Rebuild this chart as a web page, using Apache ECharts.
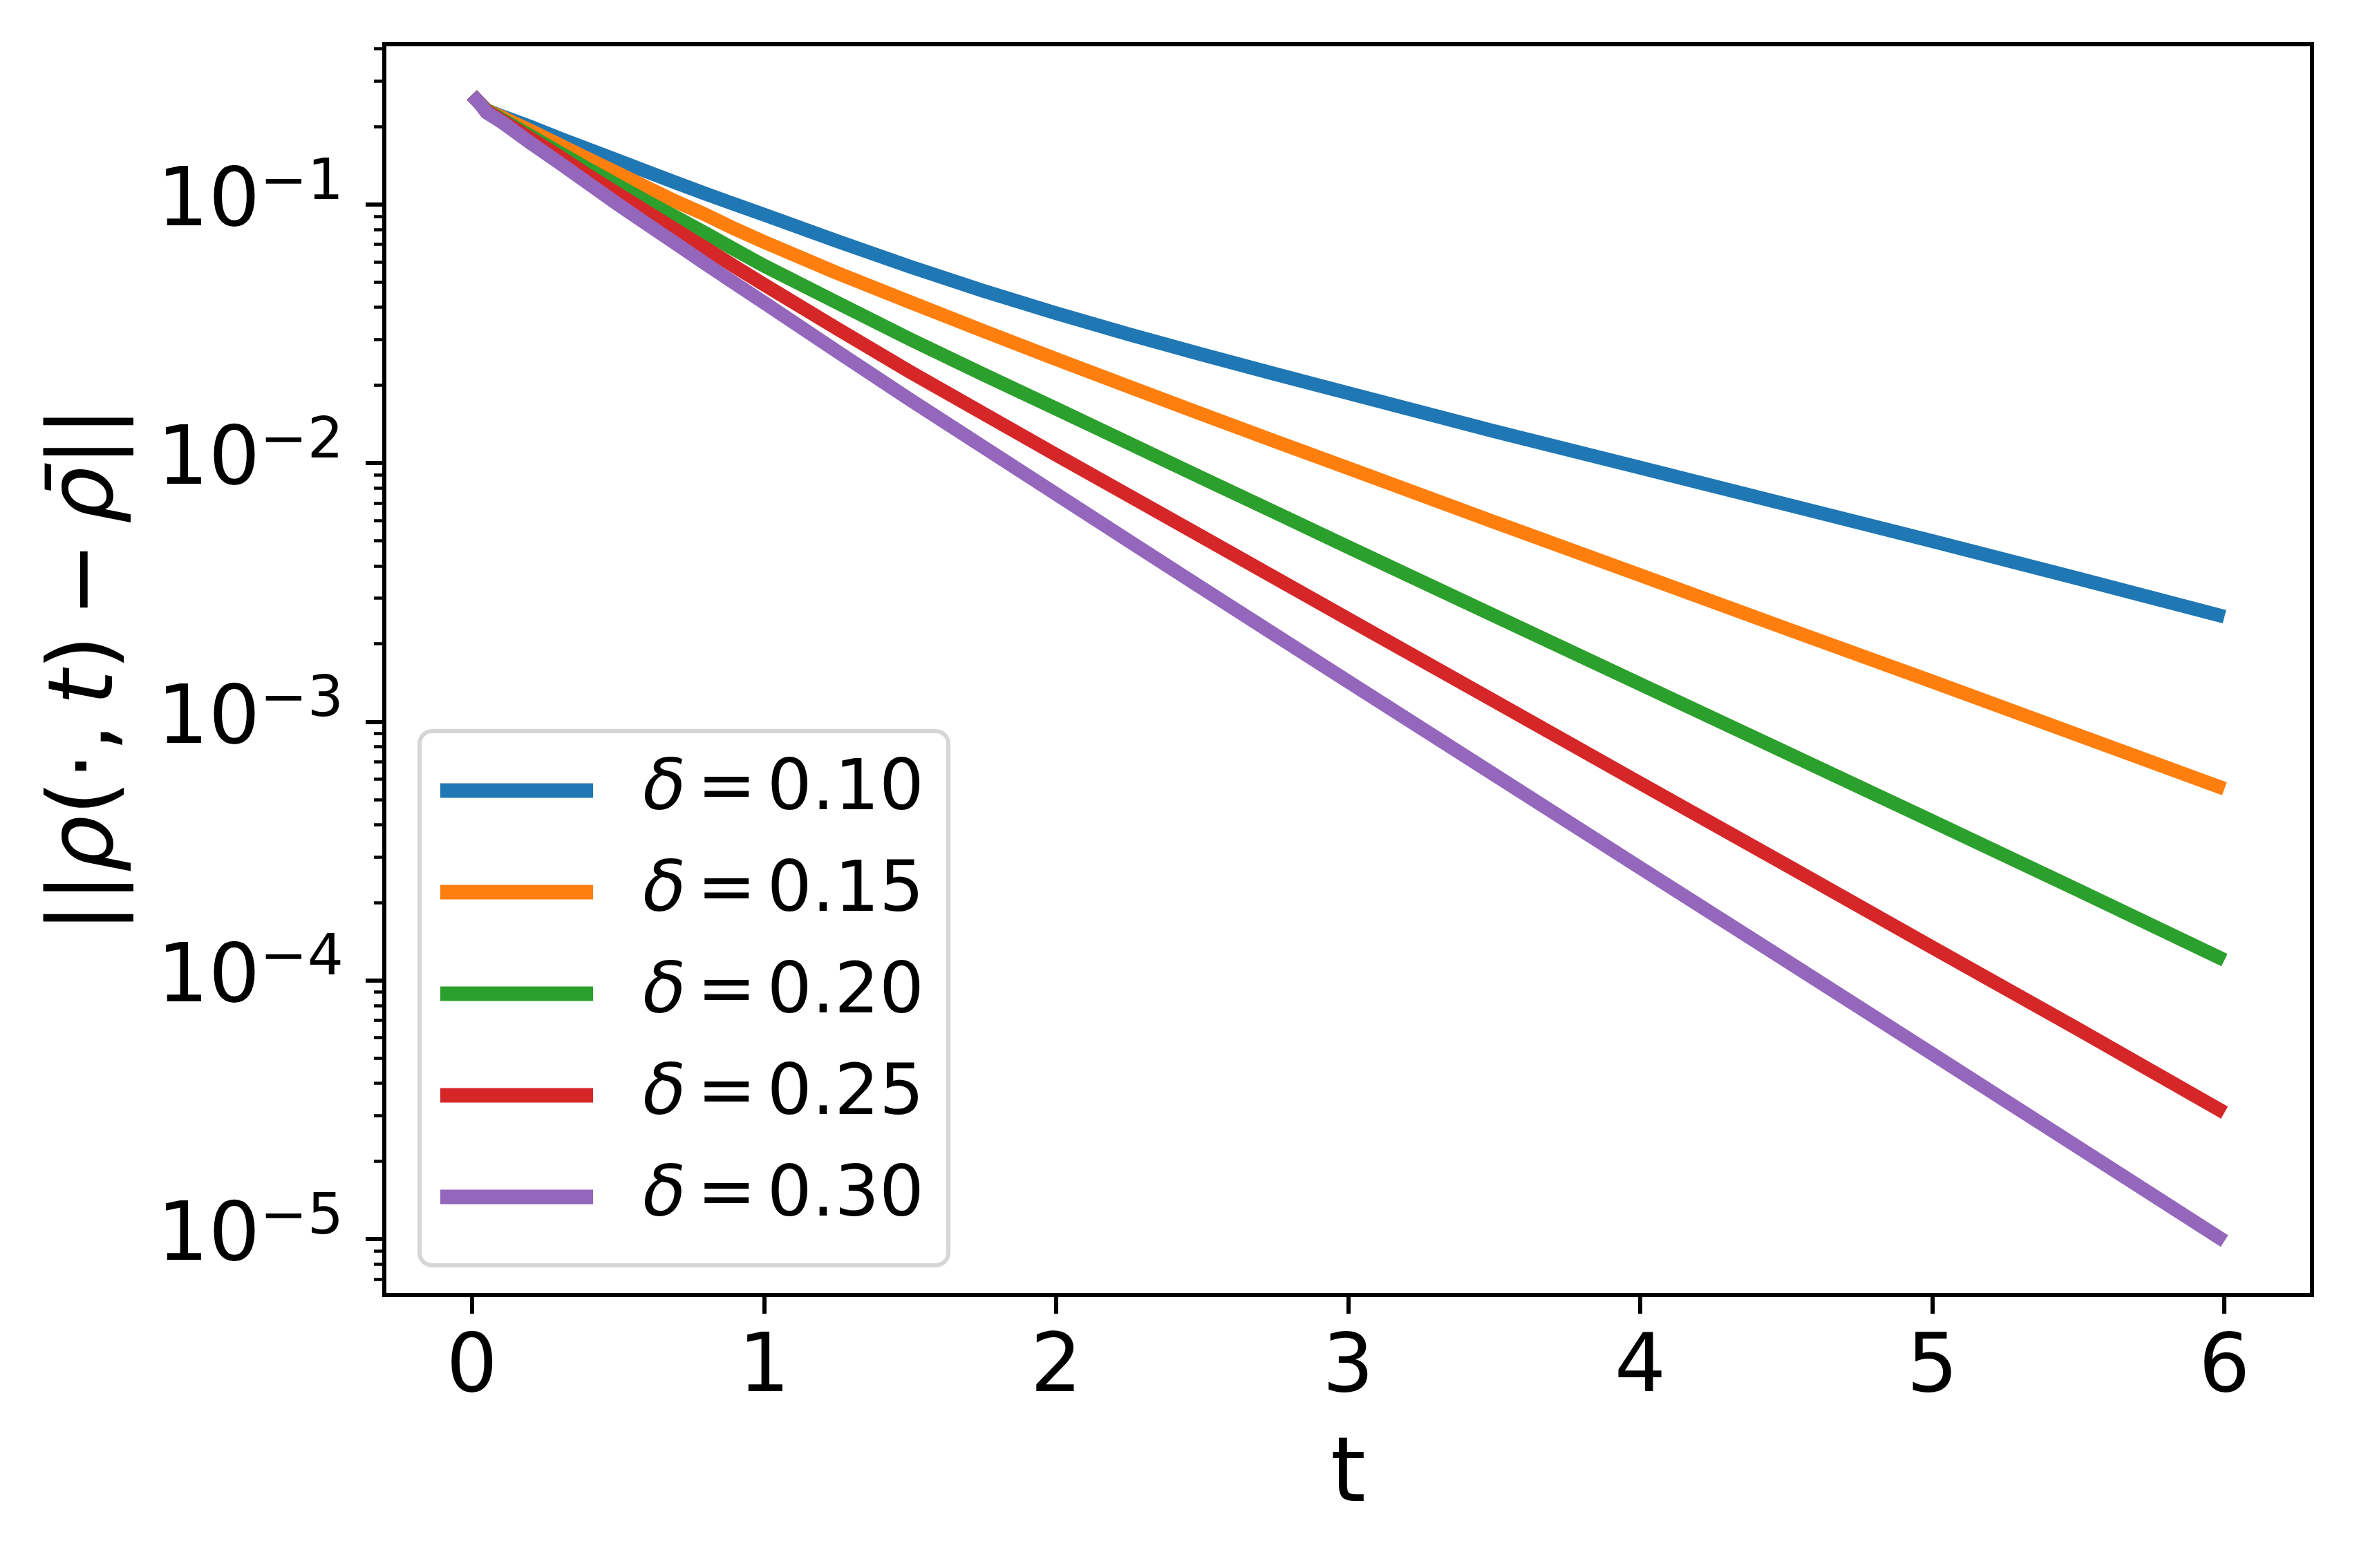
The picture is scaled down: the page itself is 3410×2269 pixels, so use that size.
<!DOCTYPE html>
<html>
<head>
<meta charset="utf-8">
<script src="https://cdn.jsdelivr.net/npm/echarts@6/dist/echarts.min.js"></script>
<style>
html,body{margin:0;padding:0;background:#fff;}
#chart{width:3410px;height:2269px;}
</style>
</head>
<body>
<div id="chart"></div>
<script>
// time samples (t)
const tValues = [0, 0.025, 0.05, 0.1, 0.2, 0.3, 0.4, 0.5, 0.6, 0.7, 0.8, 0.9, 1.0, 1.25, 1.5, 1.75, 2.0, 2.25, 2.5, 2.75, 3.0, 3.5, 4.0, 4.5, 5.0, 5.5, 6.0];
// legend labels (delta)
const deltaLabels = ['0.10', '0.15', '0.20', '0.25', '0.30'];
// ||rho(.,t) - rho_bar||
const errDelta010 = [0.2649, 0.2472, 0.2312, 0.2198, 0.1995, 0.1799, 0.1629, 0.1476, 0.1337, 0.1211, 0.1099, 0.1000, 0.0912, 0.07211, 0.05741, 0.04634, 0.03793, 0.03141, 0.02627, 0.02208, 0.01862, 0.01327, 0.009594, 0.006918, 0.004989, 0.003573, 0.002547];
const errDelta015 = [0.2649, 0.2472, 0.2312, 0.2178, 0.1928, 0.1698, 0.1493, 0.1318, 0.1161, 0.1023, 0.0912, 0.0804, 0.0716, 0.0543, 0.0419, 0.03243, 0.02523, 0.01972, 0.01545, 0.01213, 0.00955, 0.005916, 0.003681, 0.002291, 0.001429, 0.000887, 0.000550];
const errDelta020 = [0.2649, 0.2472, 0.2307, 0.2138, 0.1841, 0.1585, 0.1365, 0.1183, 0.1023, 0.0891, 0.0773, 0.0668, 0.0579, 0.0417, 0.0301, 0.02203, 0.01622, 0.01191, 0.00875, 0.006442, 0.004732, 0.002570, 0.001396, 0.000759, 0.000412, 0.000223, 0.0001197];
const errDelta025 = [0.2649, 0.2472, 0.2291, 0.2113, 0.1799, 0.1531, 0.1288, 0.1096, 0.0933, 0.0794, 0.0676, 0.0575, 0.0490, 0.0331, 0.0225, 0.01556, 0.01076, 0.007473, 0.005188, 0.003597, 0.002495, 0.001202, 0.000578, 0.000279, 0.000134, 0.0000646, 0.0000308];
const errDelta030 = [0.2649, 0.2472, 0.2265, 0.2089, 0.1730, 0.1445, 0.1202, 0.1000, 0.0838, 0.0703, 0.0589, 0.0495, 0.0417, 0.0270, 0.01758, 0.01155, 0.00759, 0.004989, 0.003281, 0.002165, 0.001429, 0.000624, 0.000272, 0.000119, 0.0000519, 0.0000226, 0.00000982];
// tick values
const xTicks = [0, 1, 2, 3, 4, 5, 6];
const yMajorTicks = [1e-5, 1e-4, 1e-3, 1e-2, 1e-1];
const yMinorTicks = [6e-6, 7e-6, 8e-6, 9e-6,
  2e-5, 3e-5, 4e-5, 5e-5, 6e-5, 7e-5, 8e-5, 9e-5,
  2e-4, 3e-4, 4e-4, 5e-4, 6e-4, 7e-4, 8e-4, 9e-4,
  2e-3, 3e-3, 4e-3, 5e-3, 6e-3, 7e-3, 8e-3, 9e-3,
  2e-2, 3e-2, 4e-2, 5e-2, 6e-2, 7e-2, 8e-2, 9e-2,
  2e-1, 3e-1, 4e-1];

const seriesValues = [errDelta010, errDelta015, errDelta020, errDelta025, errDelta030];
const colors = ['#1f77b4', '#ff7f0e', '#2ca02c', '#d62728', '#9467bd'];
const FONT = 'DejaVu Sans';
const Y_MIN = 6.07e-6, Y_MAX = 0.416;

const chart = echarts.init(document.getElementById('chart'), null, {renderer: 'canvas'});

const series = seriesValues.map((vals, k) => ({
  name: deltaLabels[k],
  type: 'line',
  xAxisIndex: 0,
  yAxisIndex: 0,
  data: tValues.map((t, i) => [t, vals[i]]),
  showSymbol: false,
  symbol: 'none',
  smooth: false,
  clip: true,
  color: colors[k],
  lineStyle: {color: colors[k], width: 20, cap: 'butt', join: 'round'},
  emphasis: {disabled: true},
  z: 2 + k
}));

const option = {
  animation: false,
  backgroundColor: '#ffffff',
  textStyle: {fontFamily: FONT},
  grid: {
    left: 556, right: 65, top: 64, bottom: 395,
    containLabel: false,
    outerBoundsMode: 'none',
    show: true,
    borderColor: '#000',
    borderWidth: 6,
    backgroundColor: 'transparent',
    z: 10
  },
  xAxis: [{
    type: 'value',
    min: -0.3,
    max: 6.3,
    name: 't',
    nameLocation: 'middle',
    nameGap: 199,
    nameTextStyle: {fontFamily: FONT, fontSize: 130, color: '#000', lineHeight: 130},
    axisLine: {show: false, onZero: false},
    splitLine: {show: false},
    axisTick: {show: true, inside: false, length: 27, customValues: xTicks, lineStyle: {color: '#000', width: 6}},
    axisLabel: {show: true, customValues: xTicks, margin: 50, fontFamily: FONT, fontSize: 117, color: '#000', lineHeight: 117,
      formatter: v => String(v)}
  }],
  yAxis: [{
    type: 'log',
    logBase: 10,
    min: Y_MIN,
    max: Y_MAX,
    position: 'left',
    offset: 0,
    name: '{u|||}{i|ρ}{u|(·,\u2009}{i|t}{u|)\u2009−\u2009}{i|ρ̄}{u|||}',
    nameLocation: 'middle',
    nameRotate: 90,
    nameGap: 363,
    nameTextStyle: {
      fontFamily: FONT, fontSize: 130, color: '#000',
      rich: {
        u: {fontFamily: FONT, fontSize: 130, lineHeight: 130, color: '#000'},
        i: {fontFamily: FONT, fontSize: 130, lineHeight: 130, fontStyle: 'italic', color: '#000'}
      }
    },
    axisLine: {show: false, onZero: false},
    splitLine: {show: false},
    minorTick: {show: false},
    axisTick: {show: true, inside: false, length: 27, customValues: yMajorTicks, lineStyle: {color: '#000', width: 6}},
    axisLabel: {
      show: true, customValues: yMajorTicks, margin: 59,
      fontFamily: FONT, color: '#000',
      formatter: v => '{b|10}{s|−' + Math.round(-Math.log10(v)) + '}',
      rich: {
        b: {fontFamily: FONT, fontSize: 117, lineHeight: 117, color: '#000', verticalAlign: 'bottom'},
        s: {fontFamily: FONT, fontSize: 82, lineHeight: 82, color: '#000', verticalAlign: 'bottom', padding: [0, 0, 47, 0]}
      }
    }
  }, {
    type: 'log',
    logBase: 10,
    min: Y_MIN,
    max: Y_MAX,
    position: 'left',
    offset: 0,
    axisLine: {show: false, onZero: false},
    splitLine: {show: false},
    axisLabel: {show: false, customValues: yMinorTicks},
    axisTick: {show: true, inside: false, length: 15, customValues: yMinorTicks, lineStyle: {color: '#000', width: 4.5}}
  }],
  legend: {
    show: true,
    orient: 'vertical',
    left: 607,
    top: 1058,
    data: deltaLabels,
    icon: 'rect',
    itemWidth: 221,
    itemHeight: 21,
    itemGap: 45,
    padding: [35, 35, 48, 30],
    backgroundColor: 'rgba(255,255,255,0.8)',
    borderColor: '#d6d6d6',
    borderWidth: 6,
    borderRadius: 18,
    selectedMode: false,
    z: 20,
    formatter: name => '{i|δ}{e|=}{n|' + name + '}',
    textStyle: {
      fontFamily: FONT, fontSize: 102, color: '#000',
      rich: {
        i: {fontFamily: FONT, fontSize: 102, lineHeight: 110, fontStyle: 'italic', color: '#000', padding: [0, 0, 0, 67]},
        e: {fontFamily: FONT, fontSize: 102, lineHeight: 110, color: '#000', padding: [0, 16, 0, 16]},
        n: {fontFamily: FONT, fontSize: 102, lineHeight: 110, color: '#000'}
      }
    }
  },
  series: series
};

chart.setOption(option);
</script>
</body>
</html>
